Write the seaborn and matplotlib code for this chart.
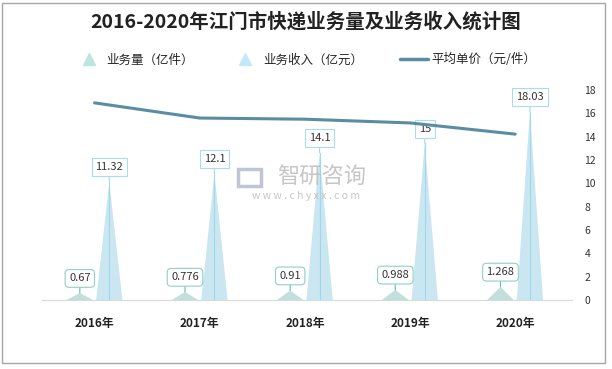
import matplotlib.pyplot as plt
import seaborn as sns
import pandas as pd
import numpy as np
from matplotlib.patches import Polygon, Rectangle
from matplotlib.lines import Line2D

# Data
years = ['2016年', '2017年', '2018年', '2019年', '2020年']
volume = [0.67, 0.776, 0.91, 0.988, 1.268]      # 业务量（亿件）
revenue = [11.32, 12.1, 14.1, 15, 18.03]        # 业务收入（亿元）
price = [16.9, 15.6, 15.5, 15.18, 14.22]        # 平均单价（元/件）
volume_labels = ['0.67', '0.776', '0.91', '0.988', '1.268']
revenue_labels = ['11.32', '12.1', '14.1', '15', '18.03']

sns.set_style('white')
plt.rcParams['font.family'] = ['Noto Sans CJK SC', 'DejaVu Sans']

c_vol = '#BDE5DE'
c_rev = '#C3E9F8'
c_line = '#5A8DA2'

df = pd.DataFrame({'year': years * 2,
                   'value': volume + revenue,
                   'kind': ['业务量（亿件）'] * 5 + ['业务收入（亿元）'] * 5})

fig = plt.figure(figsize=(6.12, 3.69), dpi=100)
ax = fig.add_axes([0.0686, 0.187, 0.866, 0.569])

sns.barplot(data=df, x='year', y='value', hue='kind', ax=ax, width=0.56,
            palette=[c_vol, c_rev], legend=False)

# turn the bars into triangles
half = 0.125
bars = [p for p in ax.patches if isinstance(p, Rectangle) and p.get_height() > 0]
tips = []
for p in bars:
    cx = p.get_x() + p.get_width() / 2
    h = p.get_height()
    col = p.get_facecolor()
    p.set_visible(False)
    ax.add_patch(Polygon([[cx - half, 0], [cx, h], [cx + half, 0]], closed=True,
                         facecolor=col, edgecolor='none', zorder=2))
    tips.append((cx, h))

vol_tips = sorted(tips, key=lambda t: t[0])[0::2]
rev_tips = sorted(tips, key=lambda t: t[0])[1::2]

for (cx, h), lab in zip(rev_tips, revenue_labels):
    ax.plot([cx, cx], [0, h], color='#9FD8EE', lw=0.8, zorder=3)
    ax.annotate(lab, (cx, h), xytext=(0, 10.5), textcoords='offset points',
                ha='center', va='center', fontsize=8, color='#333333',
                bbox=dict(boxstyle='square,pad=0.35', fc='white', ec='#A8DDF0', lw=0.8),
                arrowprops=dict(arrowstyle='-', color='#9FD8EE', lw=0.8,
                                shrinkA=0, shrinkB=0), zorder=5)

for (cx, h), lab in zip(vol_tips, volume_labels):
    ax.annotate(lab, (cx, h), xytext=(0, 10.5), textcoords='offset points',
                ha='center', va='center', fontsize=8, color='#333333',
                bbox=dict(boxstyle='round,pad=0.35', fc='white', ec='#8FD0C4', lw=0.8),
                arrowprops=dict(arrowstyle='-', color='#5FBFAE', lw=0.8,
                                shrinkA=0, shrinkB=0), zorder=5)

ax.set_ylim(0, 20.1)
ax.set_xlim(-0.5, 4.54)
ax.set_yticks([])
ax.set_xlabel('')
ax.set_ylabel('')
ax.tick_params(axis='x', length=0, pad=12)
for lab in ax.get_xticklabels():
    lab.set_fontweight('bold')
    lab.set_fontsize(8.5)
    lab.set_color('#222222')
for s in ['left', 'right', 'top']:
    ax.spines[s].set_visible(False)
ax.spines['bottom'].set_color('#D9D9D9')

# average price on the right axis
ax2 = ax.twinx()
sns.lineplot(x=np.arange(len(years)), y=price, ax=ax2, color=c_line, lw=2.2,
             zorder=4)
ax2.set_ylim(0, 18)
ax2.set_yticks(range(0, 19, 2))
ax2.tick_params(axis='y', length=0, pad=9, labelsize=7.5, labelcolor='#333333')
for s in ['left', 'right', 'top', 'bottom']:
    ax2.spines[s].set_visible(False)
ax2.set_ylabel('')

# title
fig.text(0.5, 0.94, '2016-2020年江门市快递业务量及业务收入统计图', ha='center',
         va='center', fontsize=14, fontweight='bold', color='#222222')

# legend
handles = [Line2D([], [], marker='^', ls='none', ms=9, color=c_vol),
           Line2D([], [], marker='^', ls='none', ms=9, color=c_rev),
           Line2D([], [], color=c_line, lw=2.5)]
fig.legend(handles, ['业务量（亿件）', '业务收入（亿元）', '平均单价（元/件）'],
           loc='center', bbox_to_anchor=(0.5, 0.838), ncol=3, frameon=False,
           fontsize=9, handlelength=2.2, columnspacing=3.0, handletextpad=0.3)

# watermark
fig.text(0.526, 0.518, '智研咨询', ha='center', va='center', fontsize=16,
         color='#B8B8B8', alpha=0.8)
fig.patches.append(Rectangle((0.389, 0.495), 0.038, 0.048, transform=fig.transFigure,
                             fill=False, ec='#B0B8C8', lw=2.5, alpha=0.8))
fig.text(0.5, 0.469, 'w w w . c h y x x . c o m', ha='center', va='center',
         fontsize=7.5, color='#B8B8B8', alpha=0.8)

# outer border
fig.patches.append(Rectangle((0.004, 0.015), 0.985, 0.978, transform=fig.transFigure,
                             fill=False, ec='#A6A6A6', lw=1))

fig.savefig('out.png', dpi=100)
